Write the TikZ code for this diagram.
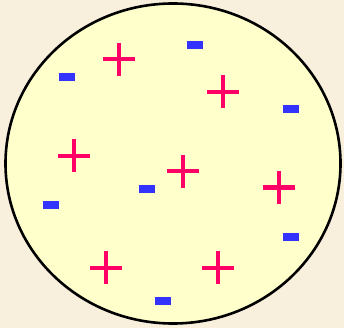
\documentclass[tikz,border=0pt]{standalone}
\usetikzlibrary{shapes.geometric}
\definecolor{bgc}{HTML}{F9EFDD}
\definecolor{cellc}{HTML}{FFFFCC}
\definecolor{plusc}{HTML}{FF0066}
\definecolor{minusc}{HTML}{3333FF}
\tikzset{
  cell/.style={ellipse, draw=black, line width=2.6pt, fill=cellc, minimum width=335pt, minimum height=320pt, inner sep=0pt},
  minus/.style={rectangle, fill=minusc, minimum width=16pt, minimum height=8pt, inner sep=0pt},
  pluscharge/.pic={
    \fill[plusc] (-16pt,-2pt) rectangle (16pt,2pt);
    \fill[plusc] (-2pt,-16.5pt) rectangle (2pt,16.5pt);
  }
}
\begin{document}
\begin{tikzpicture}[x=1pt,y=-1pt]
\fill[bgc] (0,0) rectangle (344,328);
\useasboundingbox (0,0) rectangle (344,328);
\node[cell] (c) at (173,163.5) {};
\pic (p1) at (119,59.5) {pluscharge};
\pic (p2) at (223,92) {pluscharge};
\pic (p3) at (74.3,155.6) {pluscharge};
\pic (p4) at (182.8,171.4) {pluscharge};
\pic (p5) at (279,187.5) {pluscharge};
\pic (p6) at (106.3,267.5) {pluscharge};
\pic (p7) at (218.3,267.5) {pluscharge};
\node[minus] (m1) at (195,45) {};
\node[minus] (m2) at (67,77) {};
\node[minus] (m3) at (291,108.7) {};
\node[minus] (m4) at (147,188.8) {};
\node[minus] (m5) at (51,205) {};
\node[minus] (m6) at (291,236.8) {};
\node[minus] (m7) at (163,300.8) {};
\end{tikzpicture}
\end{document}
